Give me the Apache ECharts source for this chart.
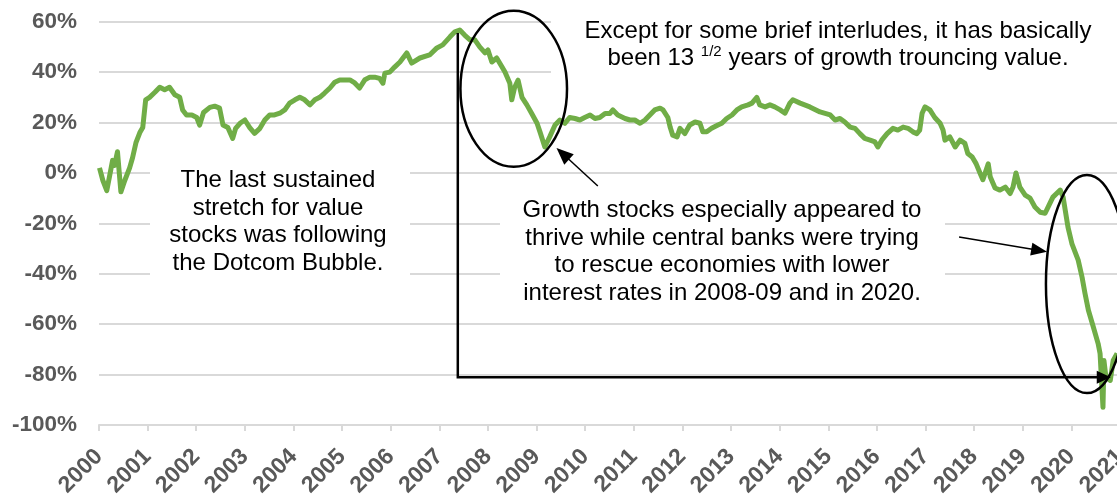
<!DOCTYPE html>
<html><head><meta charset="utf-8">
<script src="https://cdn.jsdelivr.net/npm/echarts@6/dist/echarts.min.js"></script>
<style>html,body{margin:0;padding:0;background:#fff}#c{width:1117px;height:497px}</style>
</head><body><div id="c"></div>
<script>
// decimal years of each reading
const years = [2000.01,2000.08,2000.16,2000.22,2000.28,2000.32,2000.38,2000.45,2000.53,2000.63,
2000.69,2000.76,2000.84,2000.90,2000.96,2001.04,2001.15,2001.25,2001.35,2001.45,
2001.56,2001.66,2001.72,2001.80,2001.91,2002.01,2002.07,2002.15,2002.28,2002.38,
2002.48,2002.55,2002.65,2002.75,2002.81,2002.90,2003.00,2003.10,2003.20,2003.31,
2003.41,2003.51,2003.61,2003.72,2003.82,2003.92,2004.03,2004.13,2004.23,2004.34,
2004.44,2004.54,2004.64,2004.75,2004.85,2004.95,2005.06,2005.16,2005.26,2005.36,
2005.47,2005.57,2005.67,2005.77,2005.84,2005.88,2005.98,2006.08,2006.19,2006.33,
2006.43,2006.60,2006.80,2006.95,2007.07,2007.22,2007.32,2007.42,2007.52,2007.63,
2007.73,2007.83,2007.94,2008.00,2008.08,2008.18,2008.29,2008.35,2008.45,2008.49,
2008.55,2008.62,2008.70,2008.80,2008.90,2009.01,2009.07,2009.17,2009.27,2009.38,
2009.48,2009.58,2009.68,2009.79,2009.89,2009.99,2010.10,2010.20,2010.30,2010.41,
2010.51,2010.57,2010.67,2010.82,2010.92,2011.02,2011.13,2011.23,2011.33,2011.43,
2011.54,2011.60,2011.70,2011.75,2011.80,2011.89,2011.95,2012.05,2012.15,2012.26,
2012.36,2012.42,2012.50,2012.60,2012.73,2012.81,2012.91,2013.02,2013.12,2013.22,
2013.35,2013.43,2013.53,2013.59,2013.70,2013.80,2013.90,2014.01,2014.11,2014.21,
2014.27,2014.42,2014.62,2014.83,2015.04,2015.14,2015.24,2015.34,2015.45,2015.55,
2015.65,2015.75,2015.86,2015.96,2016.02,2016.10,2016.21,2016.33,2016.43,2016.54,
2016.64,2016.74,2016.82,2016.88,2016.93,2016.99,2017.09,2017.19,2017.30,2017.36,
2017.40,2017.50,2017.61,2017.71,2017.81,2017.87,2017.96,2018.04,2018.12,2018.18,
2018.29,2018.33,2018.43,2018.53,2018.64,2018.74,2018.80,2018.86,2018.94,2019.05,
2019.15,2019.25,2019.36,2019.46,2019.56,2019.62,2019.77,2019.83,2019.93,2020.01,
2020.14,2020.22,2020.28,2020.35,2020.45,2020.55,2020.59,2020.65,2020.67,2020.71,
2020.80,2020.86,2020.94];
// growth minus value cumulative relative performance, %
const relPerf = [2,-3,-7,-1,5,3,8.4,-7.5,-3,2,
6,12,16,18,29,30,32,34,33,34,
31,30,25,23,23,22,19,24,26,26.5,
25.7,19,18,13.7,17.7,19.7,21,18,15.7,17.7,
21,23,23,23.7,25,27.7,29,30,29,27,
29,30,31.7,33.7,36,36.9,36.9,36.9,35.7,33.7,
37,38,38,37.5,35.6,39.6,40,42,44,47.6,
43.6,45.6,46.8,49.6,50.8,54,56,56.7,54.7,52.8,
52.8,50,47.6,48.8,44,45.6,42,40,35.6,29,
34,36.8,30,27,23.6,19.7,16.3,10.3,14.3,19,
21,19.7,22,21.6,21,22,23,21.6,22,23.6,
23.6,25,23,21.6,21,21,19.7,21,23,25,
25.7,25,22,18,15,14.3,17.7,15.6,19,20.2,
19.7,16.3,16.3,17.7,19,19.7,21.6,23,25,26.2,
27,27.7,30,27,26.2,27,26.2,25,23.7,27.7,
29,27.7,26.2,24.2,23,21,21.6,20.2,18.2,17.7,
15.6,13.7,13,12.3,10.3,13,15.6,17.7,17,18.2,
17.7,16.3,15.6,17,23.7,26.2,25,22,19.7,17,
13,14.3,10.3,13,11.7,7.7,6.3,3.7,0,-2.7,
3.6,-1.5,-6,-6.8,-5.6,-8.2,-5.6,0,-5.6,-8.8,
-10,-13.5,-15.6,-16,-12,-9.6,-6.8,-9.6,-21.5,-28,
-34.6,-41.4,-47.8,-54.5,-61,-67.7,-71.6,-93,-74.4,-81,
-82.3,-74.4,-71.6];
const xMin = 2000, xMax = 2021;
const yMin = -100, yMax = 60, yStep = 20;

const textNote1 = 'The last sustained\nstretch for value\nstocks was following\nthe Dotcom Bubble.';
const textNote2 = 'Growth stocks especially appeared to\nthrive while central banks were trying\nto rescue economies with lower\ninterest rates in 2008-09 and in 2020.';

const FONT = '"Liberation Sans", Arial, sans-serif';
const data = years.map((y, i) => [y, relPerf[i]]);

const chart = echarts.init(document.getElementById('c'));
chart.setOption({
  animation: false,
  grid: { left: 99, right: -3, top: 21.7, bottom: 72, containLabel: false, outerBoundsMode: 'none' },
  xAxis: {
    type: 'value', min: xMin, max: xMax, interval: 1,
    axisLine: { show: true, onZero: false, lineStyle: { color: '#d9d9d9', width: 2 } },
    axisTick: { show: true, length: 6, lineStyle: { color: '#d9d9d9', width: 2 } },
    splitLine: { show: false },
    axisLabel: { rotate: 45, margin: 28, color: '#595959', fontWeight: 'bold', fontSize: 23, fontFamily: FONT,
      formatter: v => String(v), showMaxLabel: true, showMinLabel: true, hideOverlap: false }
  },
  yAxis: {
    type: 'value', min: yMin, max: yMax, interval: yStep,
    axisLine: { show: false }, axisTick: { show: false },
    splitLine: { show: true, lineStyle: { color: '#d9d9d9', width: 2 } },
    axisLabel: { margin: 22, color: '#595959', fontWeight: 'bold', fontSize: 22.5, fontFamily: FONT, formatter: '{value}%' }
  },
  series: [{
    type: 'line', data: data, showSymbol: false, symbol: 'none', z: 2,
    lineStyle: { color: '#70ad47', width: 5, join: 'round' }
  }]
});

const P = (x, y) => chart.convertToPixel({ gridIndex: 0 }, [x, y]);
function arrow(from, tip, len, w, lw) {
  const dx = tip[0] - from[0], dy = tip[1] - from[1];
  const L = Math.hypot(dx, dy), ux = dx / L, uy = dy / L;
  const base = [tip[0] - ux * len, tip[1] - uy * len];
  const px = -uy, py = ux;
  return [
    { type: 'line', z: 20, shape: { x1: from[0], y1: from[1], x2: base[0] + ux, y2: base[1] + uy }, style: { stroke: '#000', lineWidth: lw } },
    { type: 'polygon', z: 20, shape: { points: [tip, [base[0] + px * w / 2, base[1] + py * w / 2], [base[0] - px * w / 2, base[1] - py * w / 2]] }, style: { fill: '#000' } }
  ];
}

const g = [];
// white text boxes hiding gridlines
g.push({ type: 'rect', z: 1, shape: { x: 150, y: 160, width: 260, height: 132 }, style: { fill: '#fff' } });
g.push({ type: 'rect', z: 1, shape: { x: 500, y: 186, width: 445, height: 124 }, style: { fill: '#fff' } });
g.push({ type: 'rect', z: 1, shape: { x: 551, y: 3, width: 570, height: 90 }, style: { fill: '#fff' } });
// texts
g.push({ type: 'text', z: 30, style: { text: textNote1, x: 278, y: 166.6, align: 'center', verticalAlign: 'top',
  fontSize: 24, fontFamily: FONT, lineHeight: 27.7, fill: '#000' } });
g.push({ type: 'text', z: 30, style: { text: textNote2, x: 722, y: 197, align: 'center', verticalAlign: 'top',
  fontSize: 24, fontFamily: FONT, lineHeight: 27.5, fill: '#000' } });
g.push({ type: 'text', z: 30, style: {
  text: '{n|Except for some brief interludes, it has basically}\n{n|been 13 }{s|1/2}{n| years of growth trouncing value.}',
  x: 838, y: 17.8, align: 'center', verticalAlign: 'top', fontFamily: FONT, fill: '#000',
  rich: { n: { fontSize: 24, lineHeight: 27, fontFamily: FONT, fill: '#000' },
          s: { fontSize: 15, lineHeight: 13, verticalAlign: 'top', fontFamily: FONT, fill: '#000' } } } });
// ellipses
const e1 = P(2008.53, 33.4), e2 = P(2020.32, -44.1);
g.push({ type: 'ellipse', z: 25, shape: { cx: e1[0], cy: e1[1], rx: 53.3, ry: 78 }, style: { fill: 'none', stroke: '#000', lineWidth: 2.5 } });
g.push({ type: 'ellipse', z: 25, shape: { cx: e2[0], cy: e2[1], rx: 41, ry: 109 }, style: { fill: 'none', stroke: '#000', lineWidth: 2.5 } });
// bracket
const b0 = P(2007.38, 55.5), b1 = P(2007.38, -81.1), b2 = P(2020.81, -81.1);
g.push({ type: 'polyline', z: 20, shape: { points: [b0, b1, [b2[0] - 12, b2[1]]] }, style: { stroke: '#000', lineWidth: 2.5, fill: 'none' } });
g.push({ type: 'polygon', z: 20, shape: { points: [b2, [b2[0] - 14, b2[1] - 6.5], [b2[0] - 14, b2[1] + 6.5]] }, style: { fill: '#000' } });
// pointer arrows
g.push(...arrow(P(2010.26, -5.2), P(2009.41, 9.9), 17, 14, 1.5));
g.push(...arrow(P(2017.69, -25.4), P(2019.50, -31.3), 16, 13, 1.5));

chart.setOption({ graphic: { elements: g } });
</script>
</body></html>
